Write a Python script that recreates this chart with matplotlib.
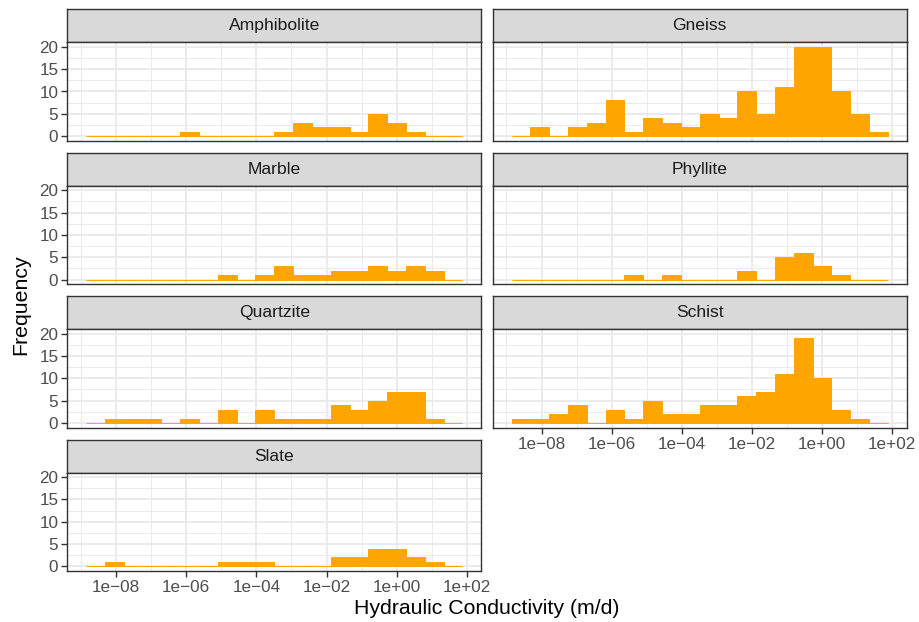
import numpy as np
import matplotlib
matplotlib.use("Agg")
import matplotlib.pyplot as plt
from matplotlib.ticker import FixedLocator, FuncFormatter, NullFormatter

# histogram bin edges, log10 of hydraulic conductivity (m/d)
bin_edges = [-8.855, -8.318, -7.782, -7.245, -6.709, -6.172, -5.635,
             -5.099, -4.562, -4.026, -3.489, -2.952, -2.416, -1.879,
             -1.343, -0.806, -0.269, 0.267, 0.804, 1.340, 1.877]

rock_types = ["Amphibolite", "Gneiss", "Marble", "Phyllite",
              "Quartzite", "Schist", "Slate"]

amphibolite = [0, 0, 0, 0, 0, 1, 0, 0, 0, 0, 1, 3, 2, 2, 1, 5, 3, 1, 0, 0]
gneiss = [0, 2, 0, 2, 3, 8, 1, 4, 3, 2, 5, 4, 10, 5, 11, 20, 20, 10, 5, 1]
marble = [0, 0, 0, 0, 0, 0, 0, 1, 0, 1, 3, 1, 1, 2, 2, 3, 2, 3, 2, 0]
phyllite = [0, 0, 0, 0, 0, 0, 1, 0, 1, 0, 0, 0, 2, 0, 5, 6, 3, 1, 0, 0]
quartzite = [0, 1, 1, 1, 0, 1, 0, 3, 0, 3, 1, 1, 1, 4, 3, 5, 7, 7, 1, 0]
schist = [1, 1, 2, 4, 0, 3, 1, 5, 2, 2, 4, 4, 6, 7, 11, 19, 10, 3, 1, 0]
slate = [0, 1, 0, 0, 0, 0, 0, 1, 1, 1, 0, 0, 0, 2, 2, 4, 4, 2, 1, 0]

counts = [amphibolite, gneiss, marble, phyllite, quartzite, schist, slate]

x_major = [-8, -6, -4, -2, 0, 2]
x_minor = [-9, -7, -5, -3, -1, 1]
y_major = [0, 5, 10, 15, 20]
y_minor = [2.5, 7.5, 12.5, 17.5]

plt.rcParams['font.family'] = ['Liberation Sans', 'DejaVu Sans']

W, H = 919, 622
fig = plt.figure(figsize=(W / 100, H / 100), dpi=100)


def rect(x0, y0, x1, y1):
    # pixel box -> figure fraction
    return [x0 / W, 1 - y1 / H, (x1 - x0) / W, (y1 - y0) / H]


def log_label(v, pos):
    e = int(round(np.log10(v)))
    sign = '+' if e >= 0 else '\u2212'
    return f"1e{sign}{abs(e):02d}"


col_x = [(67.3, 481.3), (492.7, 906.7)]
row_top0, row_pitch = 9.3, 143.4
strip_h, panel_h = 33.0, 98.4
dark = '#333333'

edges = np.array(bin_edges)
lefts = 10 ** edges[:-1]
widths = 10 ** edges[1:] - lefts

for i, (name, cnt) in enumerate(zip(rock_types, counts)):
    r, c = divmod(i, 2)
    x0, x1 = col_x[c]
    top = row_top0 + r * row_pitch

    # strip
    sax = fig.add_axes(rect(x0, top, x1, top + strip_h))
    sax.set_facecolor('#D9D9D9')
    sax.set_xticks([])
    sax.set_yticks([])
    for sp in sax.spines.values():
        sp.set_color(dark)
        sp.set_linewidth(1.0)
    sax.text(0.5, 0.5, name, ha='center', va='center', fontsize=12.6,
             color='#1A1A1A', transform=sax.transAxes)

    ax = fig.add_axes(rect(x0, top + strip_h, x1, top + strip_h + panel_h))
    ax.set_xscale('log')
    ax.bar(lefts, cnt, width=widths, align='edge', color='#FFA500',
           edgecolor='#FFA500', linewidth=0.7, zorder=3)
    ax.set_xlim(10 ** -9.392, 10 ** 2.414)
    ax.set_ylim(-1, 21)

    ax.xaxis.set_major_locator(FixedLocator([10.0 ** e for e in x_major]))
    ax.xaxis.set_minor_locator(FixedLocator([10.0 ** e for e in x_minor]))
    ax.xaxis.set_minor_formatter(NullFormatter())
    ax.yaxis.set_major_locator(FixedLocator(y_major))
    ax.yaxis.set_minor_locator(FixedLocator(y_minor))

    ax.grid(which='major', color='#EBEBEB', linewidth=1.4, zorder=0)
    ax.grid(which='minor', color='#EBEBEB', linewidth=0.7, zorder=0)
    ax.set_axisbelow(True)
    for sp in ax.spines.values():
        sp.set_color(dark)
        sp.set_linewidth(1.0)
        sp.set_zorder(5)

    ax.tick_params(which='minor', length=0)
    ax.tick_params(which='major', length=4, width=1.0, color=dark,
                   labelsize=12.3, labelcolor='#4D4D4D', pad=2.5)

    show_x = name in ("Slate", "Schist")
    if show_x:
        ax.xaxis.set_major_formatter(FuncFormatter(log_label))
    else:
        ax.tick_params(axis='x', which='major', length=0, labelbottom=False)
    if c == 1:
        ax.tick_params(axis='y', which='major', length=0, labelleft=False)

fig.text(487 / W, 1 - 608 / H, "Hydraulic Conductivity (m/d)",
         ha='center', va='center', fontsize=15.3, color='black')
fig.text(21 / W, 1 - 305 / H, "Frequency", ha='center', va='center',
         rotation=90, fontsize=15.3, color='black')

fig.savefig('out.png', dpi=100)
